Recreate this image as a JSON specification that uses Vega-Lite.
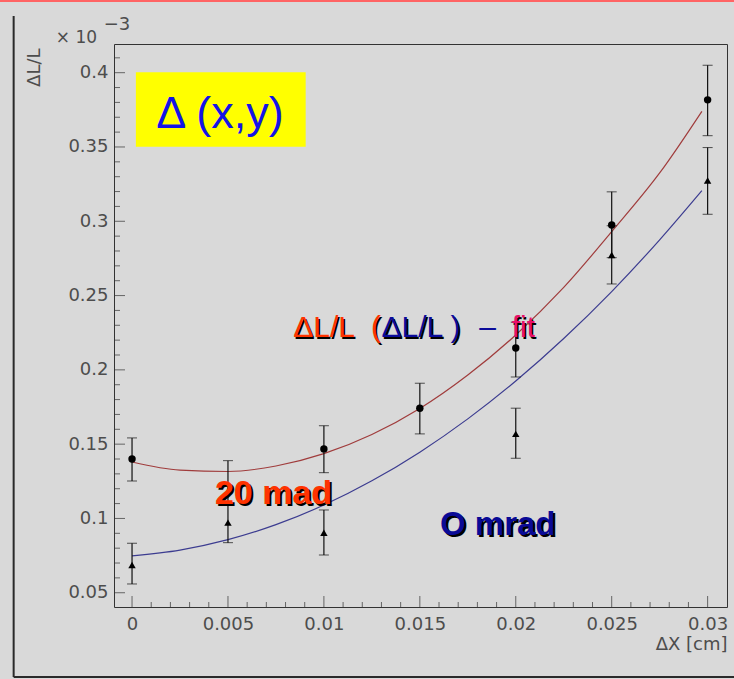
{
  "$schema": "https://vega.github.io/schema/vega-lite/v6.json",
  "width": 613,
  "height": 563,
  "autosize": {"type": "none"},
  "padding": {"left": 114, "top": 44, "right": 7, "bottom": 72},
  "background": "#d9d9d9",
  "data": {"values": [{}]},
  "config": {
    "view": {"stroke": "#333333", "strokeWidth": 1},
    "font": "DejaVu Sans",
    "axis": {"domain": false, "ticks": false, "grid": false, "labelFont": "DejaVu Sans", "labelFontSize": 18, "labelColor": "#4d4d4d", "labelFlush": false, "titleFont": "DejaVu Sans", "titleFontSize": 18, "titleFontWeight": "normal", "titleColor": "#4d4d4d"}
  },
  "datasets": {
    "points": [
      {"dx": 0, "v": 0.140, "lo": 0.1252, "hi": 0.1542, "angle": "20 mrad"},
      {"dx": 0.01, "v": 0.1468, "lo": 0.1308, "hi": 0.1624, "angle": "20 mrad"},
      {"dx": 0.015, "v": 0.1742, "lo": 0.1569, "hi": 0.191, "angle": "20 mrad"},
      {"dx": 0.02, "v": 0.2147, "lo": 0.1952, "hi": 0.2321, "angle": "20 mrad"},
      {"dx": 0.025, "v": 0.2975, "lo": 0.2755, "hi": 0.3198, "angle": "20 mrad"},
      {"dx": 0.03, "v": 0.3817, "lo": 0.3576, "hi": 0.405, "angle": "20 mrad"},
      {"dx": 0, "v": 0.0687, "lo": 0.0559, "hi": 0.0833, "angle": "0 mrad"},
      {"dx": 0.005, "v": 0.0972, "lo": 0.0837, "hi": 0.1389, "angle": "0 mrad"},
      {"dx": 0.01, "v": 0.0904, "lo": 0.0754, "hi": 0.1057, "angle": "0 mrad"},
      {"dx": 0.02, "v": 0.1569, "lo": 0.1405, "hi": 0.1742, "angle": "0 mrad"},
      {"dx": 0.025, "v": 0.2773, "lo": 0.2578, "hi": 0.297, "angle": "0 mrad"},
      {"dx": 0.03, "v": 0.3274, "lo": 0.3047, "hi": 0.3496, "angle": "0 mrad"}
    ],
    "fits": [
      {"dx": 0, "v": 0.138, "angle": "20 mrad"},
      {"dx": 0.0025, "v": 0.1325, "angle": "20 mrad"},
      {"dx": 0.005, "v": 0.1316, "angle": "20 mrad"},
      {"dx": 0.0075, "v": 0.1353, "angle": "20 mrad"},
      {"dx": 0.01, "v": 0.1436, "angle": "20 mrad"},
      {"dx": 0.0125, "v": 0.1565, "angle": "20 mrad"},
      {"dx": 0.015, "v": 0.174, "angle": "20 mrad"},
      {"dx": 0.0175, "v": 0.1965, "angle": "20 mrad"},
      {"dx": 0.02, "v": 0.2235, "angle": "20 mrad"},
      {"dx": 0.0225, "v": 0.2555, "angle": "20 mrad"},
      {"dx": 0.025, "v": 0.293, "angle": "20 mrad"},
      {"dx": 0.0275, "v": 0.3325, "angle": "20 mrad"},
      {"dx": 0.0297, "v": 0.374, "angle": "20 mrad"},
      {"dx": 0, "v": 0.0748, "angle": "0 mrad"},
      {"dx": 0.0025, "v": 0.0787, "angle": "0 mrad"},
      {"dx": 0.005, "v": 0.0857, "angle": "0 mrad"},
      {"dx": 0.0075, "v": 0.0958, "angle": "0 mrad"},
      {"dx": 0.01, "v": 0.109, "angle": "0 mrad"},
      {"dx": 0.0125, "v": 0.1253, "angle": "0 mrad"},
      {"dx": 0.015, "v": 0.1446, "angle": "0 mrad"},
      {"dx": 0.0175, "v": 0.167, "angle": "0 mrad"},
      {"dx": 0.02, "v": 0.1925, "angle": "0 mrad"},
      {"dx": 0.0225, "v": 0.2211, "angle": "0 mrad"},
      {"dx": 0.025, "v": 0.2527, "angle": "0 mrad"},
      {"dx": 0.0275, "v": 0.2875, "angle": "0 mrad"},
      {"dx": 0.0297, "v": 0.3206, "angle": "0 mrad"}
    ],
    "xticks": [
      {"t": 0, "kind": "major"}, {"t": 0.001, "kind": "minor"}, {"t": 0.002, "kind": "minor"}, {"t": 0.003, "kind": "minor"}, {"t": 0.004, "kind": "minor"},
      {"t": 0.005, "kind": "major"}, {"t": 0.006, "kind": "minor"}, {"t": 0.007, "kind": "minor"}, {"t": 0.008, "kind": "minor"}, {"t": 0.009, "kind": "minor"},
      {"t": 0.01, "kind": "major"}, {"t": 0.011, "kind": "minor"}, {"t": 0.012, "kind": "minor"}, {"t": 0.013, "kind": "minor"}, {"t": 0.014, "kind": "minor"},
      {"t": 0.015, "kind": "major"}, {"t": 0.016, "kind": "minor"}, {"t": 0.017, "kind": "minor"}, {"t": 0.018, "kind": "minor"}, {"t": 0.019, "kind": "minor"},
      {"t": 0.02, "kind": "major"}, {"t": 0.021, "kind": "minor"}, {"t": 0.022, "kind": "minor"}, {"t": 0.023, "kind": "minor"}, {"t": 0.024, "kind": "minor"},
      {"t": 0.025, "kind": "major"}, {"t": 0.026, "kind": "minor"}, {"t": 0.027, "kind": "minor"}, {"t": 0.028, "kind": "minor"}, {"t": 0.029, "kind": "minor"},
      {"t": 0.03, "kind": "major"}
    ],
    "yticks": [
      {"t": 0.05, "kind": "major"}, {"t": 0.06, "kind": "minor"}, {"t": 0.07, "kind": "minor"}, {"t": 0.08, "kind": "minor"}, {"t": 0.09, "kind": "minor"},
      {"t": 0.1, "kind": "major"}, {"t": 0.11, "kind": "minor"}, {"t": 0.12, "kind": "minor"}, {"t": 0.13, "kind": "minor"}, {"t": 0.14, "kind": "minor"},
      {"t": 0.15, "kind": "major"}, {"t": 0.16, "kind": "minor"}, {"t": 0.17, "kind": "minor"}, {"t": 0.18, "kind": "minor"}, {"t": 0.19, "kind": "minor"},
      {"t": 0.2, "kind": "major"}, {"t": 0.21, "kind": "minor"}, {"t": 0.22, "kind": "minor"}, {"t": 0.23, "kind": "minor"}, {"t": 0.24, "kind": "minor"},
      {"t": 0.25, "kind": "major"}, {"t": 0.26, "kind": "minor"}, {"t": 0.27, "kind": "minor"}, {"t": 0.28, "kind": "minor"}, {"t": 0.29, "kind": "minor"},
      {"t": 0.3, "kind": "major"}, {"t": 0.31, "kind": "minor"}, {"t": 0.32, "kind": "minor"}, {"t": 0.33, "kind": "minor"}, {"t": 0.34, "kind": "minor"},
      {"t": 0.35, "kind": "major"}, {"t": 0.36, "kind": "minor"}, {"t": 0.37, "kind": "minor"}, {"t": 0.38, "kind": "minor"}, {"t": 0.39, "kind": "minor"},
      {"t": 0.4, "kind": "major"}, {"t": 0.41, "kind": "minor"}
    ]
  },
  "resolve": {"axis": {"x": "independent", "y": "independent"}},
  "layer": [
    {
      "mark": {"type": "rule", "color": "#2a2a2a", "strokeWidth": 2},
      "encoding": {
        "x": {"datum": -0.00617, "type": "quantitative", "scale": {"domain": [-0.00094, 0.03101], "nice": false, "zero": false}, "axis": null},
        "y": {"datum": 0.4382, "type": "quantitative", "scale": {"domain": [0.0404, 0.4193], "nice": false, "zero": false}, "axis": null},
        "y2": {"datum": -0.0067}
      }
    },
    {
      "mark": {"type": "rule", "color": "#2a2a2a", "strokeWidth": 2},
      "encoding": {
        "x": {"datum": -0.00617, "type": "quantitative", "scale": {"domain": [-0.00094, 0.03101], "nice": false, "zero": false}, "axis": null},
        "x2": {"datum": 0.0316},
        "y": {"datum": -0.0067, "type": "quantitative", "scale": {"domain": [0.0404, 0.4193], "nice": false, "zero": false}, "axis": null}
      }
    },
    {
      "mark": {"type": "rule", "color": "#ff6464", "strokeWidth": 3},
      "encoding": {
        "x": {"datum": -0.0072, "type": "quantitative", "scale": {"domain": [-0.00094, 0.03101], "nice": false, "zero": false}, "axis": null},
        "x2": {"datum": 0.0316},
        "y": {"datum": 0.4485, "type": "quantitative", "scale": {"domain": [0.0404, 0.4193], "nice": false, "zero": false}, "axis": null}
      }
    },
    {
      "data": {"name": "yticks"},
      "transform": [{"filter": "datum.kind == 'major'"}],
      "mark": {"type": "tick", "orient": "horizontal", "size": 11, "thickness": 1, "color": "#333333", "xOffset": 5.5},
      "encoding": {
        "x": {"datum": -0.00094, "type": "quantitative", "scale": {"domain": [-0.00094, 0.03101], "nice": false, "zero": false}, "axis": null},
        "y": {"field": "t", "type": "quantitative", "scale": {"domain": [0.0404, 0.4193], "nice": false, "zero": false}, "axis": null}
      }
    },
    {
      "data": {"name": "yticks"},
      "transform": [{"filter": "datum.kind == 'minor'"}],
      "mark": {"type": "tick", "orient": "horizontal", "size": 6, "thickness": 1, "color": "#333333", "xOffset": 3},
      "encoding": {
        "x": {"datum": -0.00094, "type": "quantitative", "scale": {"domain": [-0.00094, 0.03101], "nice": false, "zero": false}, "axis": null},
        "y": {"field": "t", "type": "quantitative", "scale": {"domain": [0.0404, 0.4193], "nice": false, "zero": false}, "axis": null}
      }
    },
    {
      "data": {"name": "xticks"},
      "transform": [{"filter": "datum.kind == 'major'"}],
      "mark": {"type": "tick", "orient": "vertical", "size": 11, "thickness": 1, "color": "#333333", "yOffset": -5.5},
      "encoding": {
        "x": {"field": "t", "type": "quantitative", "scale": {"domain": [-0.00094, 0.03101], "nice": false, "zero": false}, "axis": null},
        "y": {"datum": 0.0404, "type": "quantitative", "scale": {"domain": [0.0404, 0.4193], "nice": false, "zero": false}, "axis": null}
      }
    },
    {
      "data": {"name": "xticks"},
      "transform": [{"filter": "datum.kind == 'minor'"}],
      "mark": {"type": "tick", "orient": "vertical", "size": 5, "thickness": 1, "color": "#333333", "yOffset": -2.5},
      "encoding": {
        "x": {"field": "t", "type": "quantitative", "scale": {"domain": [-0.00094, 0.03101], "nice": false, "zero": false}, "axis": null},
        "y": {"datum": 0.0404, "type": "quantitative", "scale": {"domain": [0.0404, 0.4193], "nice": false, "zero": false}, "axis": null}
      }
    },
    {
      "mark": {"type": "rect", "color": "#ffff00"},
      "encoding": {
        "x": {"datum": 0.0002, "type": "quantitative", "scale": {"domain": [-0.00094, 0.03101], "nice": false, "zero": false}, "axis": null},
        "x2": {"datum": 0.00905},
        "y": {"datum": 0.3502, "type": "quantitative", "scale": {"domain": [0.0404, 0.4193], "nice": false, "zero": false}, "axis": null},
        "y2": {"datum": 0.4003}
      }
    },
    {
      "mark": {"type": "text", "text": "Δ (x,y)", "font": "Liberation Sans", "fontSize": 45, "color": "#1414e6", "align": "center", "baseline": "alphabetic"},
      "encoding": {
        "x": {"datum": 0.00458, "type": "quantitative", "scale": {"domain": [-0.00094, 0.03101], "nice": false, "zero": false}, "axis": null},
        "y": {"datum": 0.3626, "type": "quantitative", "scale": {"domain": [0.0404, 0.4193], "nice": false, "zero": false}, "axis": null}
      }
    },
    {
      "data": {"name": "fits"},
      "mark": {"type": "line", "strokeWidth": 1.2, "interpolate": "monotone"},
      "encoding": {
        "x": {"field": "dx", "type": "quantitative", "scale": {"domain": [-0.00094, 0.03101], "nice": false, "zero": false}, "axis": null},
        "y": {"field": "v", "type": "quantitative", "scale": {"domain": [0.0404, 0.4193], "nice": false, "zero": false}, "axis": null},
        "color": {"field": "angle", "type": "nominal", "scale": {"domain": ["20 mrad", "0 mrad"], "range": ["#a03c3c", "#3c3c90"]}, "legend": null}
      }
    },
    {
      "data": {"name": "points"},
      "mark": {"type": "errorbar", "color": "#111111", "ticks": {"size": 10, "color": "#111111"}, "rule": {"strokeWidth": 1.2}},
      "encoding": {
        "x": {"field": "dx", "type": "quantitative", "scale": {"domain": [-0.00094, 0.03101], "nice": false, "zero": false}, "axis": null},
        "y": {"field": "lo", "type": "quantitative", "scale": {"domain": [0.0404, 0.4193], "nice": false, "zero": false}, "axis": null},
        "y2": {"field": "hi"}
      }
    },
    {
      "data": {"name": "points"},
      "mark": {"type": "point", "filled": true, "opacity": 1, "size": 55, "color": "#000000"},
      "encoding": {
        "x": {"field": "dx", "type": "quantitative", "scale": {"domain": [-0.00094, 0.03101], "nice": false, "zero": false},
          "axis": {"orient": "bottom", "values": [0, 0.005, 0.01, 0.015, 0.02, 0.025, 0.03], "format": "~g", "labelPadding": 8, "title": "ΔX [cm]", "titleX": 613, "titleY": 42, "titleAlign": "right", "titleBaseline": "alphabetic", "titleAngle": 0}},
        "y": {"field": "v", "type": "quantitative", "scale": {"domain": [0.0404, 0.4193], "nice": false, "zero": false},
          "axis": {"orient": "left", "values": [0.05, 0.1, 0.15, 0.2, 0.25, 0.3, 0.35, 0.4], "format": "~g", "labelPadding": 6, "title": "ΔL/L", "titleX": -71, "titleY": 4, "titleAlign": "right", "titleBaseline": "bottom", "titleAngle": -90}},
        "shape": {"field": "angle", "type": "nominal", "scale": {"domain": ["20 mrad", "0 mrad"], "range": ["circle", "triangle-up"]}, "legend": null}
      }
    },
    {
      "mark": {"type": "text", "text": "ΔL/L", "font": "Liberation Sans", "fontSize": 30, "color": "#000000", "align": "left", "baseline": "alphabetic", "dx": 1.5, "dy": 1.5},
      "encoding": {
        "x": {"datum": 0.0084, "type": "quantitative", "scale": {"domain": [-0.00094, 0.03101], "nice": false, "zero": false}, "axis": null},
        "y": {"datum": 0.222, "type": "quantitative", "scale": {"domain": [0.0404, 0.4193], "nice": false, "zero": false}, "axis": null}
      }
    },
    {
      "mark": {"type": "text", "text": "ΔL/L", "font": "Liberation Sans", "fontSize": 30, "color": "#ff3300", "align": "left", "baseline": "alphabetic"},
      "encoding": {
        "x": {"datum": 0.0084, "type": "quantitative", "scale": {"domain": [-0.00094, 0.03101], "nice": false, "zero": false}, "axis": null},
        "y": {"datum": 0.222, "type": "quantitative", "scale": {"domain": [0.0404, 0.4193], "nice": false, "zero": false}, "axis": null}
      }
    },
    {
      "mark": {"type": "text", "text": "(", "font": "Liberation Sans", "fontSize": 30, "color": "#000000", "align": "left", "baseline": "alphabetic", "dx": 1.5, "dy": 1.5},
      "encoding": {
        "x": {"datum": 0.01245, "type": "quantitative", "scale": {"domain": [-0.00094, 0.03101], "nice": false, "zero": false}, "axis": null},
        "y": {"datum": 0.222, "type": "quantitative", "scale": {"domain": [0.0404, 0.4193], "nice": false, "zero": false}, "axis": null}
      }
    },
    {
      "mark": {"type": "text", "text": "(", "font": "Liberation Sans", "fontSize": 30, "color": "#ff3300", "align": "left", "baseline": "alphabetic"},
      "encoding": {
        "x": {"datum": 0.01245, "type": "quantitative", "scale": {"domain": [-0.00094, 0.03101], "nice": false, "zero": false}, "axis": null},
        "y": {"datum": 0.222, "type": "quantitative", "scale": {"domain": [0.0404, 0.4193], "nice": false, "zero": false}, "axis": null}
      }
    },
    {
      "mark": {"type": "text", "text": "ΔL/L )", "font": "Liberation Sans", "fontSize": 30, "color": "#000000", "align": "left", "baseline": "alphabetic", "dx": 1.5, "dy": 1.5},
      "encoding": {
        "x": {"datum": 0.013, "type": "quantitative", "scale": {"domain": [-0.00094, 0.03101], "nice": false, "zero": false}, "axis": null},
        "y": {"datum": 0.222, "type": "quantitative", "scale": {"domain": [0.0404, 0.4193], "nice": false, "zero": false}, "axis": null}
      }
    },
    {
      "mark": {"type": "text", "text": "ΔL/L )", "font": "Liberation Sans", "fontSize": 30, "color": "#0b0b9a", "align": "left", "baseline": "alphabetic"},
      "encoding": {
        "x": {"datum": 0.013, "type": "quantitative", "scale": {"domain": [-0.00094, 0.03101], "nice": false, "zero": false}, "axis": null},
        "y": {"datum": 0.222, "type": "quantitative", "scale": {"domain": [0.0404, 0.4193], "nice": false, "zero": false}, "axis": null}
      }
    },
    {
      "mark": {"type": "text", "text": "–", "font": "Liberation Sans", "fontSize": 30, "color": "#0b0b9a", "align": "left", "baseline": "alphabetic"},
      "encoding": {
        "x": {"datum": 0.0181, "type": "quantitative", "scale": {"domain": [-0.00094, 0.03101], "nice": false, "zero": false}, "axis": null},
        "y": {"datum": 0.222, "type": "quantitative", "scale": {"domain": [0.0404, 0.4193], "nice": false, "zero": false}, "axis": null}
      }
    },
    {
      "mark": {"type": "text", "text": "fit", "font": "Liberation Sans", "fontSize": 30, "color": "#000000", "align": "left", "baseline": "alphabetic", "dx": 1.5, "dy": 1.5},
      "encoding": {
        "x": {"datum": 0.01979, "type": "quantitative", "scale": {"domain": [-0.00094, 0.03101], "nice": false, "zero": false}, "axis": null},
        "y": {"datum": 0.222, "type": "quantitative", "scale": {"domain": [0.0404, 0.4193], "nice": false, "zero": false}, "axis": null}
      }
    },
    {
      "mark": {"type": "text", "text": "fit", "font": "Liberation Sans", "fontSize": 30, "color": "#e8106a", "align": "left", "baseline": "alphabetic"},
      "encoding": {
        "x": {"datum": 0.01979, "type": "quantitative", "scale": {"domain": [-0.00094, 0.03101], "nice": false, "zero": false}, "axis": null},
        "y": {"datum": 0.222, "type": "quantitative", "scale": {"domain": [0.0404, 0.4193], "nice": false, "zero": false}, "axis": null}
      }
    },
    {
      "mark": {"type": "text", "text": "20 mad", "font": "Liberation Sans", "fontWeight": "bold", "fontSize": 34, "color": "#000000", "align": "left", "baseline": "alphabetic", "dx": 2, "dy": 2},
      "encoding": {
        "x": {"datum": 0.00432, "type": "quantitative", "scale": {"domain": [-0.00094, 0.03101], "nice": false, "zero": false}, "axis": null},
        "y": {"datum": 0.1098, "type": "quantitative", "scale": {"domain": [0.0404, 0.4193], "nice": false, "zero": false}, "axis": null}
      }
    },
    {
      "mark": {"type": "text", "text": "20 mad", "font": "Liberation Sans", "fontWeight": "bold", "fontSize": 34, "color": "#ff3300", "align": "left", "baseline": "alphabetic"},
      "encoding": {
        "x": {"datum": 0.00432, "type": "quantitative", "scale": {"domain": [-0.00094, 0.03101], "nice": false, "zero": false}, "axis": null},
        "y": {"datum": 0.1098, "type": "quantitative", "scale": {"domain": [0.0404, 0.4193], "nice": false, "zero": false}, "axis": null}
      }
    },
    {
      "mark": {"type": "text", "text": "O mrad", "font": "Liberation Sans", "fontWeight": "bold", "fontSize": 33, "color": "#000000", "align": "left", "baseline": "alphabetic", "dx": 2, "dy": 2},
      "encoding": {
        "x": {"datum": 0.01605, "type": "quantitative", "scale": {"domain": [-0.00094, 0.03101], "nice": false, "zero": false}, "axis": null},
        "y": {"datum": 0.0889, "type": "quantitative", "scale": {"domain": [0.0404, 0.4193], "nice": false, "zero": false}, "axis": null}
      }
    },
    {
      "mark": {"type": "text", "text": "O mrad", "font": "Liberation Sans", "fontWeight": "bold", "fontSize": 33, "color": "#0a0a96", "align": "left", "baseline": "alphabetic"},
      "encoding": {
        "x": {"datum": 0.01605, "type": "quantitative", "scale": {"domain": [-0.00094, 0.03101], "nice": false, "zero": false}, "axis": null},
        "y": {"datum": 0.0889, "type": "quantitative", "scale": {"domain": [0.0404, 0.4193], "nice": false, "zero": false}, "axis": null}
      }
    },
    {
      "mark": {"type": "text", "text": "× 10", "font": "DejaVu Sans", "fontSize": 17, "color": "#4d4d4d", "align": "left", "baseline": "alphabetic"},
      "encoding": {
        "x": {"datum": -0.00397, "type": "quantitative", "scale": {"domain": [-0.00094, 0.03101], "nice": false, "zero": false}, "axis": null},
        "y": {"datum": 0.4198, "type": "quantitative", "scale": {"domain": [0.0404, 0.4193], "nice": false, "zero": false}, "axis": null}
      }
    },
    {
      "mark": {"type": "text", "text": "−3", "font": "DejaVu Sans", "fontSize": 18, "color": "#4d4d4d", "align": "left", "baseline": "alphabetic"},
      "encoding": {
        "x": {"datum": -0.00148, "type": "quantitative", "scale": {"domain": [-0.00094, 0.03101], "nice": false, "zero": false}, "axis": null},
        "y": {"datum": 0.4288, "type": "quantitative", "scale": {"domain": [0.0404, 0.4193], "nice": false, "zero": false}, "axis": null}
      }
    }
  ]
}
